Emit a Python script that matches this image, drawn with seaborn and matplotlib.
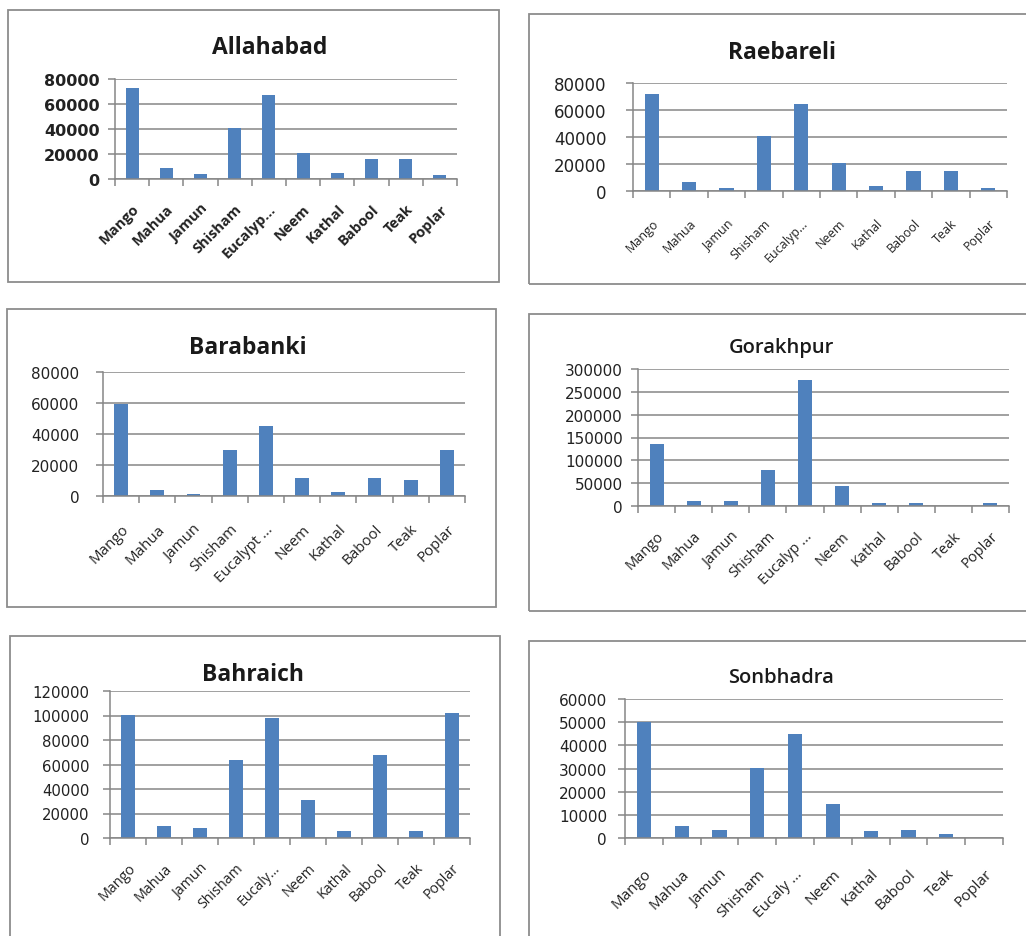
import numpy as np
import matplotlib
matplotlib.use("Agg")
import matplotlib.pyplot as plt
import seaborn as sns
from matplotlib.patches import Rectangle

sns.set_theme(style="white")
plt.rcParams['font.family'] = ['Open Sans', 'DejaVu Sans']

W, H = 1026, 937

# tree species (Eucalyptus label is cut differently in each chart)
trees = ["Mango", "Mahua", "Jamun", "Shisham", "Eucalyptus",
         "Neem", "Kathal", "Babool", "Teak", "Poplar"]
euc_labels = ["Eucalyp...", "Eucalyp...", "Eucalypt ...",
              "Eucalyp ...", "Eucaly...", "Eucaly ..."]

districts = ["Allahabad", "Raebareli", "Barabanki",
             "Gorakhpur", "Bahraich", "Sonbhadra"]

allahabad = [73000, 8500, 4000, 41000, 67000, 20500, 5000, 16000, 16000, 3500]
raebareli = [72000, 6500, 2000, 40500, 64500, 20500, 3500, 15000, 15000, 2000]
barabanki = [59500, 4000, 1500, 29500, 45000, 11500, 2800, 11500, 10500, 29500]
gorakhpur = [135000, 11000, 11000, 79000, 277000, 44500, 5500, 5500, 0, 5500]
bahraich = [100500, 10000, 8500, 64000, 98000, 31000, 5500, 67500, 5500, 102000]
sonbhadra = [50000, 5200, 3600, 30200, 45000, 14500, 2900, 3600, 1900, 0]

all_values = [allahabad, raebareli, barabanki, gorakhpur, bahraich, sonbhadra]
y_max = [80000, 80000, 80000, 300000, 120000, 60000]
y_step = [20000, 20000, 20000, 50000, 20000, 10000]

# layout in pixels: (box x0, y0, x1, y1), (plot x0, y0, x1, y1), title xy
boxes = [(8, 11, 499, 283), (529, 15, 1040, 285), (7, 310, 496, 608),
         (529, 315, 1040, 612), (10, 637, 500, 950), (529, 642, 1040, 950)]
plots = [(115, 80, 457, 180), (633, 84, 1007, 192), (103, 373, 465, 497),
         (638, 370, 1009, 507), (110, 692, 470, 839), (625, 700, 1003, 839)]
title_xy = [(270, 48), (782, 53), (248, 348), (781, 348), (253, 675), (781, 678)]
title_style = [(16.5, "bold"), (16.5, "bold"), (16.5, "bold"),
               (14.5, "semibold"), (16.5, "bold"), (14.5, "semibold")]
ytick_style = [(11.5, "bold"), (12, "normal"), (11, "normal"),
               (11, "normal"), (10.7, "normal"), (11, "normal")]
ypad = [6, 14, 12, 6, 10, 8]
xtick_style = [(10.5, "bold"), (9, "normal"), (10.8, "normal"),
               (10.5, "normal"), (10.3, "normal"), (11, "normal")]
xpad = [16, 18, 18, 16, 16, 20]

bar_color = "#4F81BD"
grid_color = "#868686"

fig = plt.figure(figsize=(W / 100, H / 100), dpi=100)
fig.patch.set_facecolor("white")

for i, name in enumerate(districts):
    bx0, by0, bx1, by1 = boxes[i]
    fig.patches.append(Rectangle((bx0 / W, 1 - by1 / H), (bx1 - bx0) / W,
                                 (by1 - by0) / H, transform=fig.transFigure,
                                 fill=False, edgecolor="#8c8c8c", lw=1.3))

    px0, py0, px1, py1 = plots[i]
    ax = fig.add_axes([px0 / W, 1 - py1 / H, (px1 - px0) / W, (py1 - py0) / H])
    labels = trees[:4] + [euc_labels[i]] + trees[5:]
    sns.barplot(x=labels, y=all_values[i], color=bar_color, saturation=1,
                width=0.38, linewidth=0, ax=ax)

    ax.set_xlim(-0.5, 9.5)
    ax.set_ylim(0, y_max[i])
    yt = np.arange(0, y_max[i] + 1, y_step[i])
    ax.set_yticks(yt)
    ax.set_yticklabels([str(int(v)) for v in yt], family="DejaVu Sans",
                       fontsize=ytick_style[i][0], fontweight=ytick_style[i][1],
                       color="#222222")
    ax.yaxis.grid(True, color=grid_color, lw=1.1)
    ax.set_axisbelow(True)
    ax.set_facecolor("white")
    for s in ["top", "right"]:
        ax.spines[s].set_visible(False)
    for s in ["left", "bottom"]:
        ax.spines[s].set_color(grid_color)
        ax.spines[s].set_linewidth(1.1)

    ax.set_xticks(np.arange(-0.5, 10, 1), minor=True)
    ax.tick_params(axis="x", which="minor", length=5, width=1.1,
                   color=grid_color, direction="out", bottom=True)
    ax.tick_params(axis="x", which="major", length=0, pad=xpad[i])
    ax.tick_params(axis="y", length=5, width=1.1, color=grid_color,
                   direction="out", left=True, pad=ypad[i])
    plt.setp(ax.get_xticklabels(), rotation=45, ha="right",
             rotation_mode="anchor", fontsize=xtick_style[i][0],
             fontweight=xtick_style[i][1], color="#222222")
    ax.set_xlabel("")
    ax.set_ylabel("")

    tx, ty = title_xy[i]
    fig.text(tx / W, 1 - ty / H, name, ha="center", va="center",
             fontsize=title_style[i][0], fontweight=title_style[i][1],
             color="#1a1a1a")

fig.savefig("out.png", dpi=100, facecolor="white")
